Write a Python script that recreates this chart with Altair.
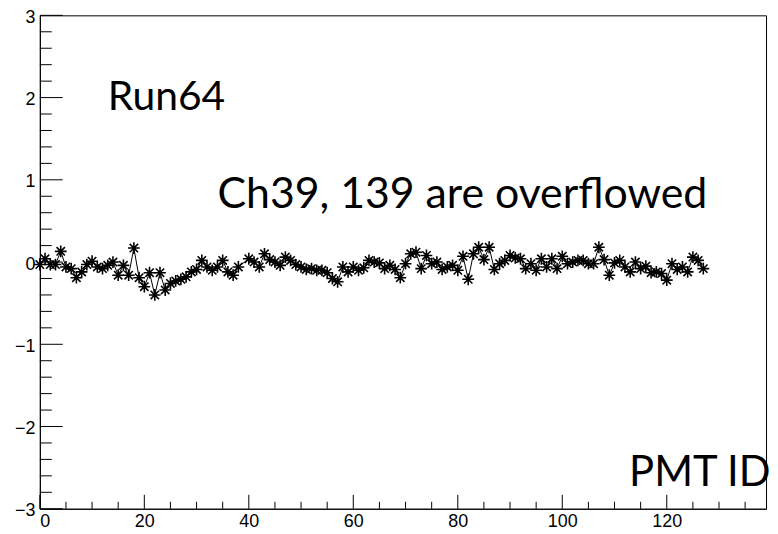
import altair as alt
import pandas as pd

# PMT channel ids (channel 39 overflowed, not drawn)
pmt_ids = [i for i in range(128) if i != 39]
values = [
    -0.03, 0.04, -0.03, -0.03, 0.13, -0.06, -0.08, -0.19, -0.12, -0.03,
    0.01, -0.06, -0.08, -0.04, 0.00, -0.16, -0.04, -0.16, 0.17, -0.19,
    -0.30, -0.13, -0.40, -0.13, -0.34, -0.26, -0.23, -0.21, -0.18, -0.12,
    -0.09, 0.02, -0.06, -0.10, -0.06, 0.02, -0.12, -0.16, -0.06,
    0.04, 0.00, -0.06, 0.10, 0.03, 0.00, -0.04, 0.06, 0.02, -0.03,
    -0.06, -0.09, -0.08, -0.10, -0.10, -0.13, -0.20, -0.24, -0.06, -0.12,
    -0.06, -0.10, -0.07, 0.02, 0.00, -0.01, -0.08, -0.04, -0.09, -0.19,
    -0.02, 0.10, 0.12, -0.08, 0.08, -0.02, 0.00, -0.09, -0.06, -0.04,
    -0.10, 0.07, -0.21, 0.10, 0.18, 0.03, 0.18, -0.09, -0.02, 0.02,
    0.08, 0.05, 0.04, -0.08, -0.02, -0.10, 0.04, -0.06, 0.04, -0.08,
    0.07, -0.02, 0.00, 0.02, 0.02, -0.02, -0.02, 0.18, 0.03, -0.16,
    -0.01, 0.02, -0.06, -0.12, 0.00, -0.08, -0.05, -0.13, -0.12, -0.14,
    -0.22, -0.02, -0.09, -0.06, -0.12, 0.06, 0.02, -0.08,
]

x_major = [0, 20, 40, 60, 80, 100, 120]
x_minor = [v for v in range(0, 140, 5) if v % 20 != 0]
y_major = [-3, -2, -1, 0, 1, 2, 3]
y_minor = [round(-3 + 0.2 * k, 1) for k in range(31) if (k % 5) != 0]

run_label = ["Run64"]
run_x = [13]
run_y = [1.85]
note_label = ["Ch39, 139 are overflowed"]
note_x = [34]
note_y = [0.66]

W, H = 730, 496

df = pd.DataFrame({"pmt": pmt_ids, "val": values})
xs = alt.Scale(domain=[0, 139], nice=False, zero=False)
ys = alt.Scale(domain=[-3, 3], nice=False, zero=False)

xaxis = alt.Axis(
    values=x_major, ticks=False, grid=False, labelPadding=4,
    labelFont="Liberation Sans", labelFontSize=18, labelColor="#000",
    domainColor="#000", title="PMT ID", titleFont="Lato",
    titleFontSize=42, titleFontWeight="normal", titleColor="#000",
    titleAlign="right", titleBaseline="alphabetic", titleX=W + 4, titleY=-23,
)
yaxis = alt.Axis(
    values=y_major, ticks=False, grid=False, labelPadding=5, labelOffset=2,
    labelFont="Liberation Sans", labelFontSize=18, labelColor="#000",
    domainColor="#000", title=None,
)

X = lambda f: alt.X(f, type="quantitative", scale=xs, axis=xaxis)
Y = lambda f: alt.Y(f, type="quantitative", scale=ys, axis=yaxis)

line = alt.Chart(df).mark_line(color="black", strokeWidth=1).encode(x=X("pmt"), y=Y("val"))

star = "M-1,0L1,0M0,-1L0,1M-0.71,-0.71L0.71,0.71M-0.71,0.71L0.71,-0.71"
pts = alt.Chart(df).mark_point(
    shape=star, size=140, filled=False, stroke="black", strokeWidth=1.6, opacity=1
).encode(x=X("pmt"), y=Y("val"))

xmaj = alt.Chart(pd.DataFrame({"t": x_major})).mark_rule(color="black", strokeWidth=1).encode(
    x=X("t"), y=alt.value(H), y2=alt.value(H - 14))
xmin = alt.Chart(pd.DataFrame({"t": x_minor})).mark_rule(color="black", strokeWidth=1).encode(
    x=X("t"), y=alt.value(H), y2=alt.value(H - 7))
ymaj = alt.Chart(pd.DataFrame({"t": y_major})).mark_rule(color="black", strokeWidth=1).encode(
    y=Y("t"), x=alt.value(0), x2=alt.value(23))
ymin = alt.Chart(pd.DataFrame({"t": y_minor})).mark_rule(color="black", strokeWidth=1).encode(
    y=Y("t"), x=alt.value(0), x2=alt.value(12))

run_txt = alt.Chart(pd.DataFrame({"label": run_label, "ax": run_x, "ay": run_y})).mark_text(
    font="Lato", fontSize=41, align="left", baseline="alphabetic", color="black"
).encode(x=X("ax"), y=Y("ay"), text="label:N")
note_txt = alt.Chart(pd.DataFrame({"label": note_label, "ax": note_x, "ay": note_y})).mark_text(
    font="Lato", fontSize=43, align="left", baseline="alphabetic", color="black"
).encode(x=X("ax"), y=Y("ay"), text="label:N")

chart = alt.layer(xmaj, xmin, ymaj, ymin, line, pts, run_txt, note_txt).properties(
    width=W, height=H,
    padding={"left": 32, "top": 6, "right": 4, "bottom": 24},
    autosize=alt.AutoSizeParams(type="none"),
    background="white",
).configure_view(stroke="black", strokeWidth=1)

chart.save("out.html", embed_options={"renderer": "svg", "actions": False})
